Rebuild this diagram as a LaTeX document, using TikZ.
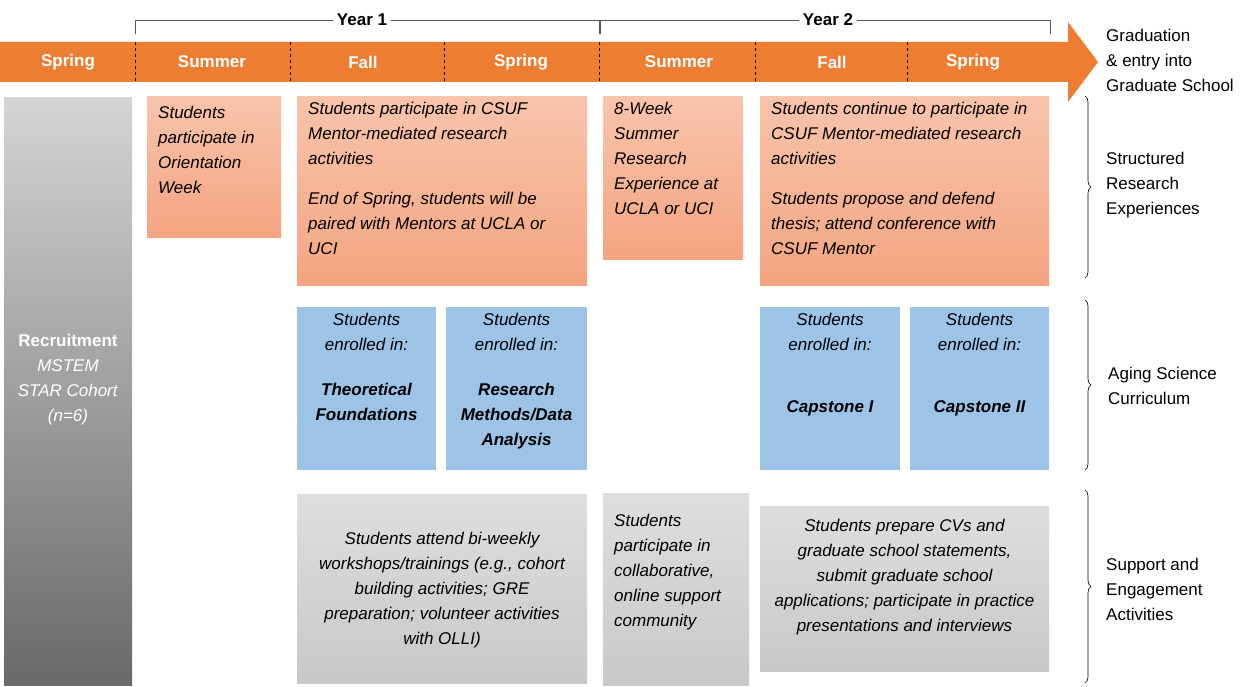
\documentclass[tikz,border=0pt]{standalone}
\usepackage{fontspec}
\setmainfont{Liberation Sans}
\usetikzlibrary{decorations.pathreplacing}
\definecolor{org}{RGB}{237,125,49}
\definecolor{peachA}{RGB}{248,196,172}
\definecolor{peachB}{RGB}{244,164,128}
\definecolor{blu}{RGB}{157,195,230}
\definecolor{grA}{RGB}{222,222,222}
\definecolor{grB}{RGB}{200,200,200}
\tikzset{x=1pt,y=-1pt,
 txt/.style={font=\fontsize{17}{25}\selectfont\itshape, align=left, anchor=north west, inner sep=0pt},
 ctxt/.style={font=\fontsize{17}{25}\selectfont\itshape, align=center, inner sep=0pt},
 rtxt/.style={font=\fontsize{17}{25}\selectfont, align=left, anchor=west, inner sep=0pt},
 sea/.style={font=\fontsize{17}{20}\selectfont\bfseries, text=white},
 obox/.style={top color=peachA, bottom color=peachB, draw=none},
 bbox/.style={fill=blu, draw=none},
 gbox/.style={top color=grA, bottom color=grB, draw=none},
 sep/.style={white, dashed, line width=0.8pt},
 brc/.style={decorate, decoration={brace, amplitude=6pt}, line width=0.6pt}}
\begin{document}
\begin{tikzpicture}
\useasboundingbox (0,0) rectangle (1254,687);
% arrow bar
\fill[org] (0,42) -- (1068,42) -- (1068,22) -- (1098,62) -- (1068,102) -- (1068,82) -- (0,82) -- cycle;
\foreach \x in {135,290,444,599,755,907} \draw[black,dashed,line width=0.7pt] (\x,42) -- (\x,82);
\foreach \x/\t in {68/Spring,212/Summer,363/Fall,521/Spring,679/Summer,832/Fall,973/Spring}
  \node[sea] (s\x) at (\x,62) {\t};
% year brackets
\node[font=\fontsize{17}{20}\selectfont\bfseries] (y1) at (362,20) {Year 1};
\draw[gray!70!black] (y1.west) -- (135,20) -- (135,34);
\draw[gray!70!black] (y1.east) -- (599,20) -- (599,34);
\node[font=\fontsize{17}{20}\selectfont\bfseries] (y2) at (828,20) {Year 2};
\draw[gray!70!black] (y2.west) -- (600,20) -- (600,34);
\draw[gray!70!black] (y2.east) -- (1050,20) -- (1050,34);
\node[rtxt] (grad) at (1106,60) {Graduation\\\& entry into\\Graduate School};
% left bar
\shade[top color={rgb,255:red,212;green,212;blue,212}, bottom color={rgb,255:red,105;green,105;blue,105}] (4,98) rectangle (132,685);
\node[font=\fontsize{17}{25}\selectfont, text=white, align=center] (rec) at (68,380) {\textbf{Recruitment}\\\textit{MSTEM}\\\textit{STAR Cohort}\\\textit{(n=6)}};
% orange
\draw[obox] (147,97) rectangle (281,238);
\node[txt] (o1) at (158,106) {Students\\participate in\\Orientation\\Week};
\draw[obox] (297,97) rectangle (587,286);
\node[txt] (o2) at (308,102) {Students participate in CSUF\\Mentor-mediated research\\activities\\[0.9em]End of Spring, students will be\\paired with Mentors at UCLA or\\UCI};
\draw[obox] (603,97) rectangle (743,260);
\node[txt] (o3) at (614,102) {8-Week\\Summer\\Research\\Experience at\\UCLA or UCI};
\draw[obox] (760,97) rectangle (1049,286);
\node[txt] (o4) at (771,102) {Students continue to participate in\\CSUF Mentor-mediated research\\activities\\[0.9em]Students propose and defend\\thesis; attend conference with\\CSUF Mentor};
% blue
\draw[bbox] (297,307) rectangle (436,470);
\node[ctxt, anchor=north] (b1) at (366.5,313) {Students\\enrolled in:\\[1.2em]\textbf{Theoretical}\\\textbf{Foundations}};
\draw[bbox] (446,307) rectangle (587,470);
\node[ctxt, anchor=north] (b2) at (516.5,313) {Students\\enrolled in:\\[1.2em]\textbf{Research}\\\textbf{Methods/Data}\\\textbf{Analysis}};
\draw[bbox] (760,307) rectangle (900,470);
\node[ctxt, anchor=north] (b3) at (830,313) {Students\\enrolled in:\\[2.2em]\textbf{Capstone I}};
\draw[bbox] (910,307) rectangle (1049,470);
\node[ctxt, anchor=north] (b4) at (979.5,313) {Students\\enrolled in:\\[2.2em]\textbf{Capstone II}};
% gray
\draw[gbox] (297,494) rectangle (587,683);
\node[ctxt] (g1) at (442,590) {Students attend bi-weekly\\workshops/trainings (e.g., cohort\\building activities; GRE\\preparation; volunteer activities\\with OLLI)};
\draw[gbox] (603,493) rectangle (749,685);
\node[txt] (g2) at (614,514) {Students\\participate in\\collaborative,\\online support\\community};
\draw[gbox] (760,506) rectangle (1049,671);
\node[ctxt] (g3) at (904.5,577) {Students prepare CVs and\\graduate school statements,\\submit graduate school\\applications; participate in practice\\presentations and interviews};
% right braces
\draw[brc] (1085,96) -- (1085,278);
\node[rtxt] (r1) at (1106,185) {Structured\\Research\\Experiences};
\draw[brc] (1085,300) -- (1085,470);
\node[rtxt] (r2) at (1108,386) {Aging Science\\Curriculum};
\draw[brc] (1085,490) -- (1085,683);
\node[rtxt] (r3) at (1106,589) {Support and\\Engagement\\Activities};
\end{tikzpicture}
\end{document}
